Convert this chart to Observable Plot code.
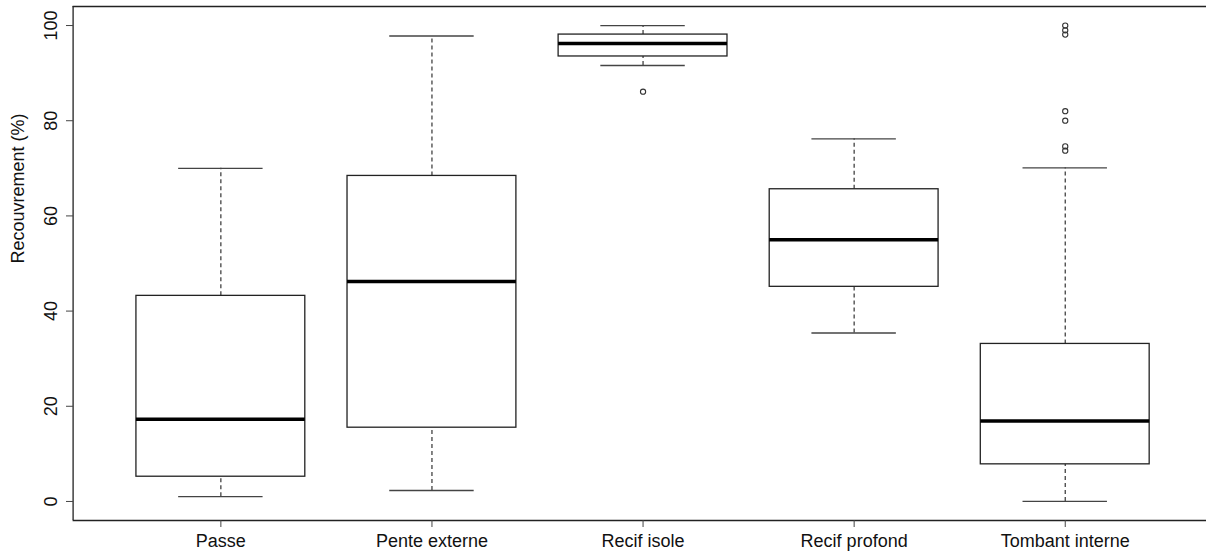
<!DOCTYPE html>
<html>
<head>
<meta charset="utf-8">
<script src="https://cdn.jsdelivr.net/npm/d3@7"></script>
<script src="https://cdn.jsdelivr.net/npm/@observablehq/plot@0.6"></script>
<style>
  html, body { margin: 0; padding: 0; background: #fff; overflow: hidden; }
  #chart svg { display: block; }
</style>
</head>
<body>
<div id="chart"></div>
<script>
// Coral cover (%) by reef habitat: five-number summaries + outliers
const categories = ["Passe", "Pente externe", "Recif isole", "Recif profond", "Tombant interne"];
const whiskerLow  = [1.0, 2.3, 91.6, 35.4, 0.0];
const quartile1   = [5.2, 15.5, 93.5, 45.1, 7.8];
const medians     = [17.3, 46.2, 96.2, 55.0, 16.9];
const quartile3   = [43.2, 68.4, 98.1, 65.6, 33.1];
const whiskerHigh = [70.0, 97.8, 100.0, 76.2, 70.1];

// Outlying observations (category index, value)
const outlierGroup = [3, 5, 5, 5, 5, 5, 5, 5];
const outlierValue = [86.1, 100.0, 99.0, 98.1, 82.0, 80.0, 74.6, 73.7];

const yTicks = [0, 20, 40, 60, 80, 100];
const yLabel = "Recouvrement (%)";

const boxes = categories.map((name, i) => ({
  name, pos: i + 1,
  lo: whiskerLow[i], q1: quartile1[i], med: medians[i], q3: quartile3[i], hi: whiskerHigh[i]
}));
const outliers = outlierGroup.map((g, i) => ({pos: g, value: outlierValue[i]}));

const halfBox = 0.4, halfCap = 0.2;
const xMin = 0.3, xMax = 5.7, yMin = -4, yMax = 104;
const ink = "#222";
const font = "Liberation Sans, Arial, sans-serif";

const chart = Plot.plot({
  width: 1206,
  height: 553,
  marginLeft: 73,
  marginRight: 0,
  marginTop: 6,
  marginBottom: 33,
  style: {fontFamily: font, fontSize: "18px", color: "#111", background: "#fff"},
  x: {type: "linear", domain: [xMin, xMax], range: [72.6, 1212.5]},
  y: {domain: [yMin, yMax]},
  marks: [
    // whiskers (dashed)
    Plot.ruleX(boxes, {x: "pos", y1: "q3", y2: "hi", stroke: "#333", strokeWidth: 1.2, strokeDasharray: "4,3"}),
    Plot.ruleX(boxes, {x: "pos", y1: "lo", y2: "q1", stroke: "#333", strokeWidth: 1.2, strokeDasharray: "4,3"}),
    // whisker caps
    Plot.ruleY(boxes, {y: "hi", x1: d => d.pos - halfCap, x2: d => d.pos + halfCap, stroke: "#444", strokeWidth: 1.3}),
    Plot.ruleY(boxes, {y: "lo", x1: d => d.pos - halfCap, x2: d => d.pos + halfCap, stroke: "#444", strokeWidth: 1.3}),
    // boxes
    Plot.rect(boxes, {x1: d => d.pos - halfBox, x2: d => d.pos + halfBox, y1: "q1", y2: "q3", fill: "white", stroke: ink, strokeWidth: 1.3}),
    // medians
    Plot.ruleY(boxes, {y: "med", x1: d => d.pos - halfBox, x2: d => d.pos + halfBox, stroke: "#000", strokeWidth: 3.5}),
    // outliers
    Plot.dot(outliers, {x: "pos", y: "value", r: 2.6, stroke: "#333", strokeWidth: 1.1, fill: "none"}),
    // plot frame (right edge falls outside the page)
    Plot.ruleX([xMin], {y1: yMin, y2: yMax, stroke: ink, strokeWidth: 1.3}),
    Plot.ruleY([yMin, yMax], {x1: xMin, x2: xMax, stroke: ink, strokeWidth: 1.3}),
    // axes
    Plot.axisY({ticks: yTicks, tickSize: 7, tickRotate: -90, tickPadding: 10, label: null, stroke: "#444"}),
    Plot.axisX({ticks: [1, 2, 3, 4, 5], tickFormat: d => categories[d - 1], tickSize: 7, tickPadding: 7, label: null, stroke: "#444"}),
    Plot.text([yLabel], {frameAnchor: "left", dx: -55, rotate: -90, fontSize: 18, fill: "#111"})
  ]
});

document.getElementById("chart").appendChild(chart);
</script>
</body>
</html>
